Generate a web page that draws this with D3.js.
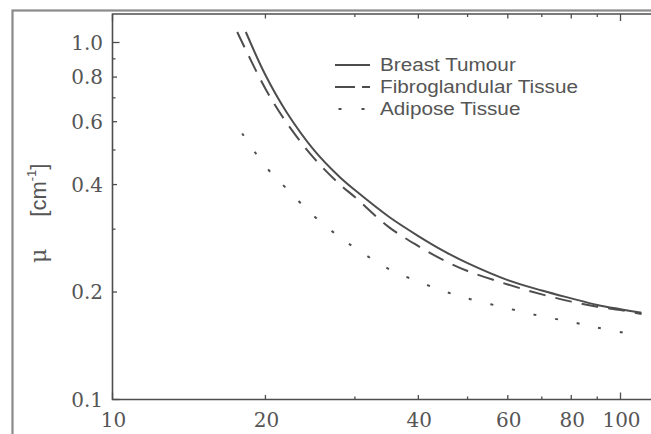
<!DOCTYPE html>
<html>
<head>
<meta charset="utf-8">
<script src="https://cdn.jsdelivr.net/npm/d3@7"></script>
<style>
    body { margin: 0; background: #fff; }
    svg { display: block; }
</style>
</head>
<body>
<div id="chart"></div>
<script>
// photon energy (keV) and linear attenuation coefficient (cm^-1)
const energyTumour = [18.3, 20, 22, 25, 28, 30, 35, 40, 45, 50, 60, 70, 80, 90, 100, 110];
const muTumour     = [1.07, 0.811, 0.639, 0.497, 0.42, 0.386, 0.325, 0.287, 0.26, 0.241, 0.216, 0.202, 0.192, 0.184, 0.179, 0.175];

const energyFibro = [17.6, 20, 22, 25, 28, 30, 35, 40, 45, 50, 60, 70, 80, 90, 100, 110];
const muFibro     = [1.07, 0.742, 0.597, 0.472, 0.401, 0.369, 0.304, 0.269, 0.245, 0.229, 0.21, 0.197, 0.188, 0.182, 0.178, 0.1735];

const energyAdipose = [18, 20, 22, 25, 28, 30, 35, 40, 45, 50, 60, 70, 80, 90, 101];
const muAdipose     = [0.556, 0.45, 0.39, 0.325, 0.285, 0.266, 0.232, 0.214, 0.201, 0.192, 0.18, 0.171, 0.165, 0.159, 0.154];

const seriesNames = ["Breast Tumour", "Fibroglandular Tissue", "Adipose Tissue"];

const xMajor = [10, 20, 40, 60, 80, 100];
const xMinor = [30, 50, 70, 90];
const yMajor = [0.1, 0.2, 0.4, 0.6, 0.8, 1.0];
const yMinor = [0.3, 0.5, 0.7, 0.9];

const width = 651, height = 434;
const ink = "#4d4d4d";

var svg = d3.select("#chart").append("svg")
    .attr("width", width)
    .attr("height", height);

var x = d3.scaleLog().domain([10, 100]).range([112.5, 620.5]);
var y = d3.scaleLog().domain([0.1, 1]).range([399.5, 42.5]);

var plotTop = 14, plotBottom = y(0.1), plotLeft = x(10), plotRight = 700;

// outer frame of the figure
svg.append("rect")
    .attr("x", 12.5).attr("y", 10.5)
    .attr("width", 700).attr("height", 500)
    .attr("fill", "none")
    .attr("stroke", "#8a8a8a")
    .attr("stroke-width", 2.2);

// plot frame
var frame = svg.append("g").attr("stroke", ink).attr("stroke-width", 1.6).attr("fill", "none");
frame.append("path").attr("d", "M" + plotRight + "," + plotTop + "H" + plotLeft + "V" + plotBottom + "H" + plotRight);

// ticks, all pointing inward
function tickLen(v, major) {
    if (v === 10 || v === 100 || v === 0.1 || v === 1.0) return 7;
    return major ? 4.5 : 3;
}
var ticks = svg.append("g").attr("stroke", ink).attr("stroke-width", 1.3);
xMajor.concat(xMinor).forEach(function(v) {
    var len = tickLen(v, xMajor.includes(v));
    ticks.append("line").attr("x1", x(v)).attr("x2", x(v)).attr("y1", plotBottom).attr("y2", plotBottom - len);
    ticks.append("line").attr("x1", x(v)).attr("x2", x(v)).attr("y1", plotTop).attr("y2", plotTop + len);
});
yMajor.concat(yMinor).forEach(function(v) {
    var len = tickLen(v, yMajor.includes(v));
    ticks.append("line").attr("y1", y(v)).attr("y2", y(v)).attr("x1", plotLeft).attr("x2", plotLeft + len);
});

// tick labels
var fmt = d3.format(".1f");
svg.append("g").selectAll("text")
    .data(yMajor).enter().append("text")
    .attr("x", 103)
    .attr("y", function(d) { return y(d); })
    .attr("dy", "0.36em")
    .attr("text-anchor", "end")
    .attr("font-family", "DejaVu Serif")
    .attr("font-size", 20)
    .attr("fill", "#555")
    .text(function(d) { return fmt(d); });

svg.append("g").selectAll("text")
    .data(xMajor).enter().append("text")
    .attr("x", function(d) { return x(d) + 1; })
    .attr("y", 427)
    .attr("text-anchor", "middle")
    .attr("font-family", "DejaVu Serif")
    .attr("font-size", 20)
    .attr("fill", "#555")
    .text(function(d) { return d; });

// y axis title
var ylab = svg.append("text")
    .attr("transform", "translate(46,263) rotate(-90)")
    .attr("font-family", "Liberation Sans")
    .attr("font-size", 22)
    .attr("fill", "#555");
ylab.append("tspan").attr("font-family", "DejaVu Serif").text("\u03bc");
ylab.append("tspan").attr("dx", 32).text("[cm");
ylab.append("tspan").attr("font-size", 13).attr("dy", -10).text("-1");
ylab.append("tspan").attr("dy", 10).text("]");

// curves
var line = d3.line()
    .x(function(d) { return x(d[0]); })
    .y(function(d) { return y(d[1]); })
    .curve(d3.curveCatmullRom.alpha(0.5));

var series = [
    { pts: d3.zip(energyTumour, muTumour), kind: "solid" },
    { pts: d3.zip(energyFibro, muFibro), kind: "dash" },
    { pts: d3.zip(energyAdipose, muAdipose), kind: "dot" }
];

svg.append("g").selectAll("path")
    .data(series).enter().append("path")
    .attr("d", function(d) { return line(d.pts); })
    .attr("fill", "none")
    .attr("stroke", ink)
    .attr("stroke-width", 2)
    .attr("stroke-dasharray", function(d) {
        if (d.kind == "dash") return "17 10";
        if (d.kind == "dot") {
            // 21 dots along the curve, first and last on the ends
            var len = this.getTotalLength();
            var period = (len - 3) / 20;
            return "3 " + (period - 3);
        }
        return null;
    });

// legend
var legendDash = [null, "20 7", "3 20"];
var legend = svg.append("g");
seriesNames.forEach(function(name, i) {
    var ly = 65 + i * 22;
    legend.append("line")
        .attr("x1", i == 2 ? 338.5 : 335).attr("x2", 370)
        .attr("y1", ly).attr("y2", ly)
        .attr("stroke", ink)
        .attr("stroke-width", 1.8)
        .attr("stroke-dasharray", legendDash[i]);
    legend.append("text")
        .attr("transform", "translate(380," + (ly + 6) + ") scale(1.12,1)")
        .attr("font-family", "Liberation Sans")
        .attr("font-size", 18.5)
        .attr("fill", "#555")
        .text(name);
});
</script>
</body>
</html>
